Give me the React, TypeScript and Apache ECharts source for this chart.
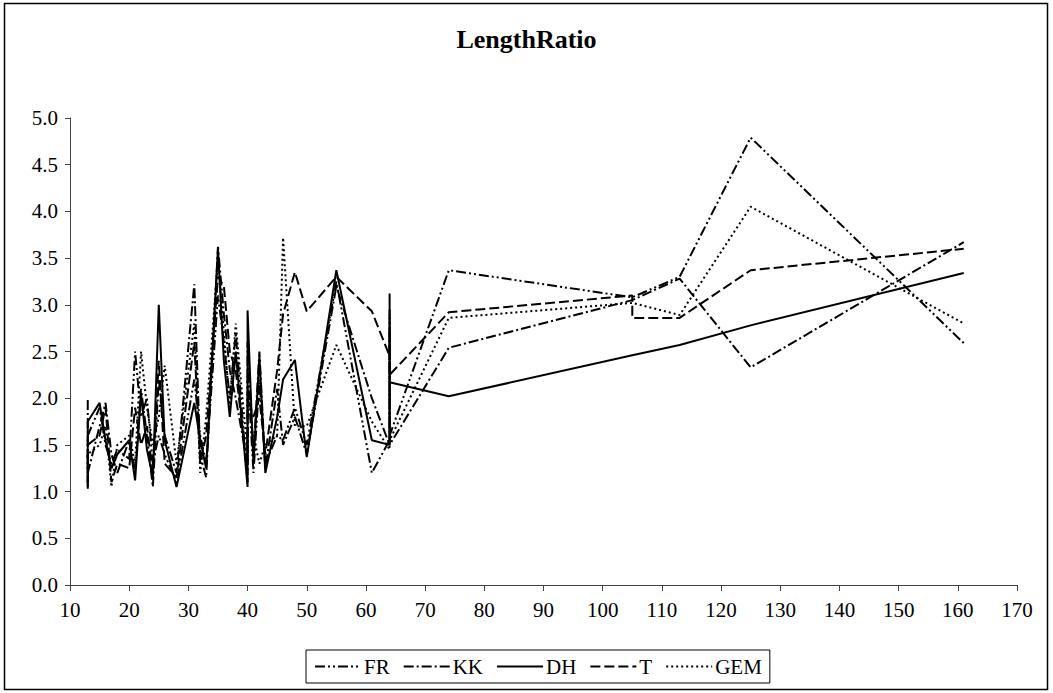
import React, { useEffect, useRef } from "react";
import * as echarts from "echarts";

const xs = [13, 13, 15, 16, 17, 18, 20, 21, 22, 23, 24, 25, 26, 28, 31, 32, 33, 35, 36, 37, 38, 40, 40, 41, 42, 43, 45, 46, 48, 50, 55, 61, 64, 64, 64, 74, 105, 105, 113, 125, 161];

const fr = [1.1, 1.6, 1.9, 1.5, 1.3, 1.45, 1.35, 2.5, 1.8, 2.0, 1.3, 1.6, 1.4, 1.1, 2.2, 1.6, 1.3, 3.1, 2.6, 2.0, 2.7, 1.1, 2.3, 1.2, 2.2, 1.3, 1.6, 1.55, 1.9, 1.5, 3.25, 1.2, 1.55, 2.75, 1.6, 3.37, 3.08, 3.08, 3.3, 4.79, 2.59];
const kk = [1.98, 1.2, 1.7, 1.95, 1.4, 1.2, 1.55, 1.2, 2.1, 1.6, 1.05, 2.2, 1.6, 1.2, 3.22, 1.4, 1.15, 3.62, 2.9, 2.3, 2.0, 1.3, 2.6, 1.4, 2.5, 1.25, 2.1, 1.5, 1.8, 1.4, 3.2, 2.0, 1.5, 2.9, 1.5, 2.54, 3.05, 3.05, 3.28, 2.33, 3.67];
const dh = [1.03, 1.75, 1.95, 1.55, 1.25, 1.4, 1.55, 1.12, 2.05, 1.45, 1.15, 3.0, 1.55, 1.05, 1.95, 1.55, 1.25, 3.6, 2.4, 1.8, 2.5, 1.05, 2.94, 1.3, 2.45, 1.2, 1.8, 2.2, 2.41, 1.37, 3.37, 1.55, 1.5, 3.12, 2.17, 2.02, 2.46, 2.46, 2.57, 2.78, 3.34];
const t = [1.05, 1.5, 1.6, 1.9, 1.1, 1.3, 1.25, 1.9, 1.5, 1.7, 1.2, 2.4, 1.3, 1.15, 2.6, 1.3, 1.6, 3.3, 3.2, 2.5, 2.3, 1.2, 2.0, 1.8, 2.0, 1.4, 2.3, 2.9, 3.35, 2.93, 3.3, 2.93, 2.45, 2.95, 2.25, 2.92, 3.1, 2.86, 2.86, 3.37, 3.6];
const gem = [1.1, 1.4, 1.5, 1.7, 1.05, 1.5, 1.6, 1.3, 2.5, 1.9, 1.5, 1.8, 2.35, 1.3, 2.8, 1.2, 1.8, 3.5, 2.7, 1.9, 2.8, 1.4, 1.6, 1.6, 1.3, 1.5, 1.6, 3.72, 1.7, 1.7, 2.57, 1.75, 1.45, 2.7, 1.55, 2.86, 3.02, 3.02, 2.89, 4.05, 2.8];

const seriesNames = ["FR", "KK", "DH", "T", "GEM"];
const seriesValues = [fr, kk, dh, t, gem];
const dashTypes: any[] = [[10, 3, 2, 3, 2, 3], [10, 3, 2, 3], "solid", [10, 4], [2, 3]];

const FONT = "'Liberation Serif', 'DejaVu Serif', serif";

export default function App() {
  const ref = useRef<HTMLDivElement>(null);
  useEffect(() => {
    document.body.style.margin = "0";
    const chart = echarts.init(ref.current!, null, { renderer: "svg" });
    chart.setOption({
      animation: false,
      backgroundColor: "#fff",
      title: {
        text: "LengthRatio",
        left: "center",
        top: 21,
        textStyle: { fontFamily: FONT, fontSize: 26, fontWeight: "bold", color: "#000" },
      },
      graphic: [
        {
          type: "rect",
          shape: { x: 4.5, y: 3.5, width: 1043, height: 686 },
          style: { fill: "none", stroke: "#000", lineWidth: 1.5 },
          silent: true,
        },
      ],
      legend: {
        data: seriesNames,
        left: 306,
        top: 650,
        orient: "horizontal",
        borderColor: "#000",
        borderWidth: 1,
        padding: [6, 8, 6, 8],
        itemGap: 13,
        itemWidth: 46,
        itemHeight: 12,
        itemStyle: { opacity: 0, color: "rgba(0,0,0,0)", borderWidth: 0 },
        textStyle: { fontFamily: FONT, fontSize: 21, color: "#000", padding: [0, 0, 0, -2] },
      },
      grid: { left: 70, right: 36, top: 118, bottom: 108, containLabel: false },
      xAxis: {
        type: "value",
        min: 10,
        max: 170,
        interval: 10,
        axisLine: { show: true, lineStyle: { color: "#444", width: 1 } },
        axisTick: { show: true, inside: false, length: 6, lineStyle: { color: "#444" } },
        splitLine: { show: false },
        axisLabel: { fontFamily: FONT, fontSize: 21, color: "#000", margin: 14 },
      },
      yAxis: {
        type: "value",
        min: 0,
        max: 5,
        interval: 0.5,
        axisLine: { show: true, lineStyle: { color: "#444", width: 1 } },
        axisTick: { show: true, inside: false, length: 5, lineStyle: { color: "#444" } },
        splitLine: { show: false },
        axisLabel: {
          fontFamily: FONT,
          fontSize: 21,
          color: "#000",
          margin: 12,
          formatter: (v: number) => v.toFixed(1),
        },
      },
      series: seriesNames.map((name, i) => ({
        name,
        type: "line",
        symbol: "none",
        data: xs.map((x, j) => [x, seriesValues[i][j]]),
        lineStyle: { color: "#000", width: 2, type: dashTypes[i] },
        itemStyle: { color: "#000" },
      })),
    });
    return () => chart.dispose();
  }, []);
  return <div ref={ref} style={{ width: 1053, height: 693 }} />;
}
